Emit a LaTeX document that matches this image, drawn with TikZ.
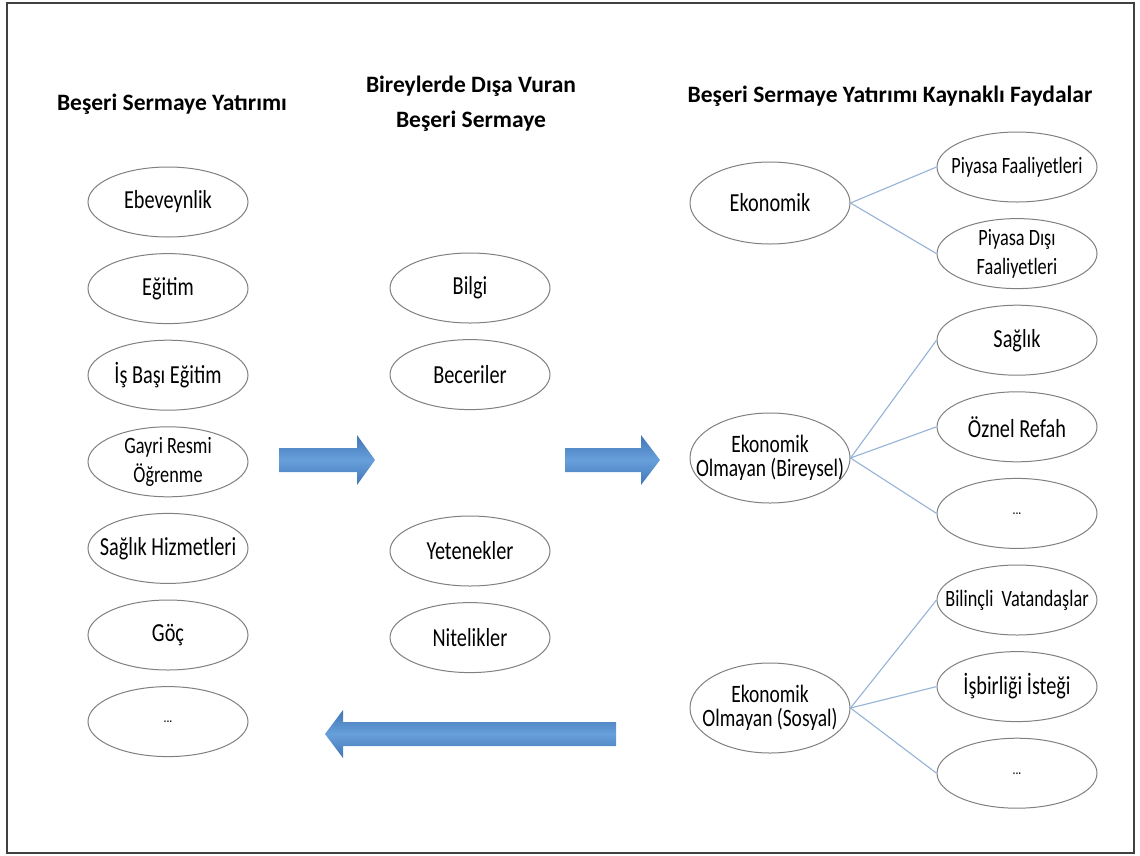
\documentclass[tikz,border=0pt]{standalone}
\usepackage{fontspec}
\setmainfont{Carlito}
\newfontfamily\ovalfont[FakeStretch=0.78]{Carlito}
\usetikzlibrary{positioning,shapes.geometric}

\definecolor{ovalgray}{HTML}{808080}
\definecolor{linkblue}{HTML}{95B3D7}
\definecolor{framegray}{HTML}{404040}
\definecolor{arrowdark}{HTML}{4174B6}
\definecolor{arrowlight}{HTML}{67A0DB}

\begin{document}
\begin{tikzpicture}[x=1pt, y=1pt, node distance=15.6pt,
    every node/.style={align=center},
    oval/.style={draw=ovalgray, line width=1pt, ellipse, minimum width=160pt, minimum height=70pt,
        inner xsep=-20pt, inner ysep=0pt, font=\ovalfont\fontsize{26}{27}\selectfont},
    smalloval/.style={oval, font=\ovalfont\fontsize{23.4}{29}\selectfont},
    dotsoval/.style={oval, font=\ovalfont\fontsize{15}{16}\selectfont},
    parent/.style={oval, minimum height=90pt, font=\ovalfont\fontsize{25}{24}\selectfont},
    heading/.style={font=\bfseries\fontsize{23.5}{35}\selectfont, anchor=base},
    link/.style={draw=linkblue, line width=1.1pt},
    bigarrow/.style={top color=arrowdark, bottom color=arrowdark, middle color=arrowlight, draw=none}]

    \useasboundingbox (0,0) rectangle (1140,-855);
    \fill[white] (0,0) rectangle (1140,-855);
    \draw[line width=2pt, framegray] (7,-3) rectangle (1134,-853);

    % headings
    \node[heading] (h1) at (172,-110) {Beşeri Sermaye Yatırımı};
    \node[heading] (h2) at (471,-127) {Bireylerde Dışa Vuran\\Beşeri Sermaye};
    \node[heading] (h3) at (890,-102) {Beşeri Sermaye Yatırımı Kaynaklı Faydalar};

    % left column
    \node[oval] (ebeveyn) at (168,-202) {Ebeveynlik};
    \node[oval, below=of ebeveyn] (egitim) {Eğitim};
    \node[oval, below=of egitim] (isbasi) {İş Başı Eğitim};
    \node[smalloval, below=of isbasi] (gayri) {Gayri Resmi\\Öğrenme};
    \node[oval, below=of gayri] (saglikh) {Sağlık Hizmetleri};
    \node[oval, below=of saglikh] (goc) {Göç};
    \node[dotsoval, below=of goc] (soldots) {...};

    % middle column
    \node[oval] (bilgi) at (470,-288) {Bilgi};
    \node[oval, below=of bilgi] (beceri) {Beceriler};
    \node[oval] (yetenek) at (470,-551) {Yetenekler};
    \node[oval, below=of yetenek] (nitelik) {Nitelikler};

    % right column
    \node[oval, minimum height=82pt] (ekonomik) at (770,-203) {Ekonomik};
    \node[parent] (bireysel) at (770,-458) {Ekonomik\\Olmayan (Bireysel)};
    \node[parent] (sosyal) at (770,-708) {Ekonomik\\Olmayan (Sosyal)};

    \node[smalloval] (piyasa) at (1017,-167) {Piyasa Faaliyetleri};
    \node[smalloval, below=of piyasa] (piyasadisi) {Piyasa Dışı\\Faaliyetleri};
    \node[oval, below=of piyasadisi] (saglik) {Sağlık};
    \node[oval, below=of saglik] (refah) {Öznel Refah};
    \node[dotsoval, below=of refah] (bdots) {...};
    \node[smalloval, below=of bdots] (bilincli) {Bilinçli~~Vatandaşlar};
    \node[oval, below=of bilincli] (isbirligi) {İşbirliği İsteği};
    \node[dotsoval, below=of isbirligi] (sdots) {...};

    \draw[link] (ekonomik.east) -- (piyasa.west);
    \draw[link] (ekonomik.east) -- (piyasadisi.west);
    \draw[link] (bireysel.east) -- (saglik.west);
    \draw[link] (bireysel.east) -- (refah.west);
    \draw[link] (bireysel.east) -- (bdots.west);
    \draw[link] (sosyal.east) -- (bilincli.west);
    \draw[link] (sosyal.east) -- (isbirligi.west);
    \draw[link] (sosyal.east) -- (sdots.west);

    % block arrows
    \shade[bigarrow] (279,-448) -- (357,-448) -- (357,-435) -- (375,-460) -- (357,-485) -- (357,-472) -- (279,-472) -- cycle;
    \shade[bigarrow] (565,-448) -- (641,-448) -- (641,-435) -- (660,-460) -- (641,-485) -- (641,-472) -- (565,-472) -- cycle;
    \shade[bigarrow] (616,-722) -- (343,-722) -- (343,-710) -- (325,-734) -- (343,-758) -- (343,-746) -- (616,-746) -- cycle;
\end{tikzpicture}
\end{document}
